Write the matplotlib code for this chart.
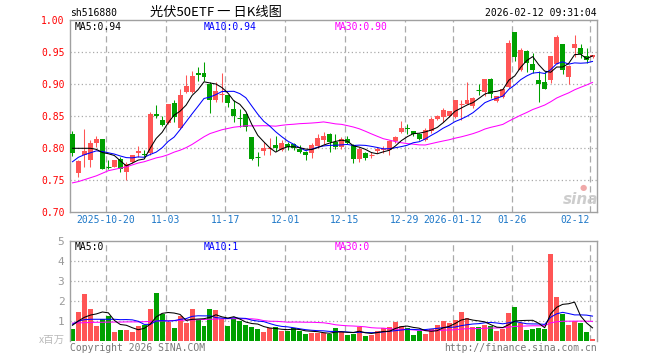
import matplotlib
matplotlib.use("Agg")
import matplotlib.pyplot as plt
import numpy as np
import pandas as pd
from matplotlib.patches import Rectangle

# ---------------- data ----------------
tick_labels = ["2025-10-20", "11-03", "11-17", "12-01", "12-15", "12-29",
               "2026-01-12", "01-26", "02-12"]
tick_index = [6, 16, 26, 36, 46, 56, 64, 74, 87]

opens = [0.823, 0.762, 0.789, 0.782, 0.809, 0.8146, 0.7725, 0.771, 0.784, 0.763,
         0.779, 0.7927, 0.791, 0.792, 0.853, 0.844, 0.839, 0.870, 0.831, 0.888,
         0.888, 0.918, 0.918, 0.901, 0.875, 0.884, 0.883, 0.862, 0.849, 0.854,
         0.817, 0.787, 0.795, 0.800, 0.805, 0.797, 0.807, 0.806, 0.799, 0.794,
         0.793, 0.803, 0.8125, 0.823, 0.810, 0.802, 0.815, 0.805, 0.784, 0.792,
         0.789, 0.796, 0.797, 0.798, 0.8115, 0.825, 0.8315, 0.8266, 0.823, 0.8135,
         0.827, 0.846, 0.849, 0.850, 0.849, 0.869, 0.870, 0.866, 0.892, 0.888,
         0.908, 0.874, 0.880, 0.896, 0.981, 0.922, 0.9516, 0.932, 0.906, 0.903,
         0.906, 0.932, 0.9625, 0.9115, 0.956, 0.956, 0.945, 0.943]
closes = [0.793, 0.780, 0.795, 0.809, 0.8146, 0.768, 0.771, 0.781, 0.768, 0.775,
          0.789, 0.795, 0.789, 0.853, 0.851, 0.837, 0.869, 0.849, 0.884, 0.898,
          0.9125, 0.914, 0.911, 0.875, 0.8896, 0.885, 0.871, 0.850, 0.848, 0.834,
          0.783, 0.786, 0.800, 0.801, 0.800, 0.809, 0.802, 0.800, 0.794, 0.789,
          0.805, 0.8167, 0.820, 0.810, 0.802, 0.815, 0.8083, 0.784, 0.7995, 0.785,
          0.790, 0.799, 0.799, 0.8115, 0.8177, 0.832, 0.830, 0.823, 0.815, 0.828,
          0.846, 0.8505, 0.860, 0.858, 0.875, 0.870, 0.875, 0.879, 0.891, 0.909,
          0.8854, 0.881, 0.892, 0.9646, 0.943, 0.953, 0.933, 0.923, 0.901, 0.893,
          0.944, 0.974, 0.923, 0.928, 0.9625, 0.948, 0.9385, 0.945]
highs = [0.827, 0.781, 0.830, 0.8125, 0.820, 0.815, 0.781, 0.782, 0.786, 0.779,
         0.790, 0.804, 0.797, 0.856, 0.867, 0.850, 0.870, 0.875, 0.892, 0.914,
         0.921, 0.927, 0.935, 0.904, 0.904, 0.917, 0.884, 0.875, 0.862, 0.855,
         0.818, 0.794, 0.810, 0.8167, 0.820, 0.8135, 0.810, 0.808, 0.805, 0.796,
         0.808, 0.823, 0.8255, 0.8245, 0.822, 0.818, 0.820, 0.807, 0.802, 0.794,
         0.794, 0.802, 0.803, 0.8125, 0.820, 0.8427, 0.8385, 0.8266, 0.824, 0.831,
         0.849, 0.8526, 0.8635, 0.859, 0.876, 0.875, 0.9036, 0.880, 0.900, 0.909,
         0.910, 0.881, 0.893, 0.969, 0.982, 0.956, 0.953, 0.949, 0.921, 0.921,
         0.944, 0.9766, 0.9625, 0.930, 0.9766, 0.9635, 0.957, 0.946]
lows = [0.788, 0.755, 0.770, 0.770, 0.802, 0.767, 0.768, 0.770, 0.763, 0.750,
        0.777, 0.786, 0.786, 0.790, 0.847, 0.835, 0.8375, 0.841, 0.830, 0.886,
        0.886, 0.905, 0.905, 0.855, 0.872, 0.872, 0.864, 0.841, 0.834, 0.827,
        0.782, 0.773, 0.789, 0.789, 0.796, 0.795, 0.797, 0.798, 0.792, 0.782,
        0.785, 0.800, 0.807, 0.794, 0.7995, 0.7995, 0.807, 0.777, 0.779, 0.782,
        0.785, 0.792, 0.793, 0.789, 0.808, 0.824, 0.823, 0.820, 0.8135, 0.811,
        0.824, 0.8437, 0.841, 0.849, 0.848, 0.845, 0.869, 0.8635, 0.883, 0.881,
        0.879, 0.872, 0.879, 0.895, 0.936, 0.921, 0.919, 0.918, 0.872, 0.892,
        0.902, 0.931, 0.9156, 0.900, 0.943, 0.9417, 0.933, 0.941]
volumes = [0.585, 1.45, 2.335, 1.585, 0.735, 1.07, 1.235, 0.452, 0.552, 0.552,
           0.452, 0.735, 0.785, 1.585, 2.385, 1.335, 0.952, 0.652, 1.235, 0.902,
           1.585, 1.035, 0.735, 1.585, 1.535, 1.068, 0.735, 1.068, 1.0, 0.785,
           0.70, 0.60, 0.45, 0.635, 0.668, 0.502, 0.502, 0.62, 0.50, 0.335,
           0.40, 0.40, 0.368, 0.35, 0.635, 0.45, 0.285, 0.335, 0.668, 0.235,
           0.285, 0.502, 0.618, 0.70, 0.935, 0.752, 0.652, 0.285, 0.502, 0.335,
           0.585, 0.785, 1.0, 0.868, 1.035, 1.452, 1.118, 0.668, 0.668, 0.785,
           0.752, 0.502, 0.585, 1.385, 1.685, 0.868, 0.552, 0.602, 0.635, 0.585,
           4.335, 2.185, 1.335, 0.785, 1.0, 0.885, 0.435, 0.10]

# moving-average values at the left edge (their earlier history is off-chart)
ma5_head = [0.800, 0.800, 0.800, 0.800]
ma10_head = [0.779, 0.786, 0.790, 0.793, 0.796, 0.795, 0.793, 0.791, 0.788]
ma30_head = [0.746, 0.748, 0.751, 0.754, 0.757, 0.761, 0.765, 0.767, 0.769, 0.771,
             0.774, 0.777, 0.779, 0.782, 0.785, 0.787, 0.790, 0.794, 0.797, 0.801,
             0.806, 0.812, 0.818, 0.823, 0.826, 0.829, 0.831, 0.833, 0.834]
vma5_head = [0.77, 0.99, 1.17, 1.28]
vma10_head = [0.82, 0.98, 1.05, 1.07, 1.07, 1.07, 1.07, 1.07, 1.05]
vma30_head = [0.88, 0.89, 0.90, 0.91, 0.92, 0.92, 0.93, 0.93, 0.93, 0.94,
              0.94, 0.94, 0.95, 0.96, 0.98, 0.99, 1.00, 1.01, 1.02, 1.03,
              1.04, 1.05, 1.06, 1.07, 1.08, 1.09, 1.10, 1.10, 1.10]

ma_labels = ["MA5:0.94", "MA10:0.94", "MA30:0.90"]
vma_labels = ["MA5:0", "MA10:1", "MA30:0"]
price_ticks = [0.70, 0.75, 0.80, 0.85, 0.90, 0.95, 1.00]
vol_ticks = [1, 2, 3, 4, 5]

# ---------------- helpers ----------------
def moving(values, n, head):
    s = pd.Series(values).rolling(n).mean().to_numpy()
    s[:len(head)] = head
    return s

ma5 = moving(closes, 5, ma5_head)
ma10 = moving(closes, 10, ma10_head)
ma30 = moving(closes, 30, ma30_head)
vma5 = moving(volumes, 5, vma5_head)
vma10 = moving(volumes, 10, vma10_head)
vma30 = moving(volumes, 30, vma30_head)

RED = "#FF5555"
GREEN = "#00A000"
GRID = "#AAAAAA"
MONO = "DejaVu Sans Mono"
CJK = ["Noto Sans CJK SC", "DejaVu Sans"]
LW = 0.75

W, H = 660, 360
fig = plt.figure(figsize=(W / 100, H / 100), dpi=100)
fig.patch.set_facecolor("white")

def rect(x0, y0, x1, y1):
    return [x0 / W, 1 - y1 / H, (x1 - x0) / W, (y1 - y0) / H]

def ftext(x, y, s, **kw):
    fig.text(x / W, 1 - y / H, s, **kw)

n = len(closes)
xs = np.arange(n)
bw = 5 / 6
xlim = (-2.5 / 6, n - 1 + 4.5 / 6)
grid_x = [i - 2.5 / 6 for i in tick_index]

ax = fig.add_axes(rect(70, 20.3, 597, 212.3))
axv = fig.add_axes(rect(70, 240.6, 597, 340.7))

for a in (ax, axv):
    a.set_xlim(*xlim)
    for sp in a.spines.values():
        sp.set_color("#A0A0A0")
        sp.set_linewidth(1.0)
    a.tick_params(length=0)
    for gx in grid_x:
        a.axvline(gx, color=GRID, lw=0.9, ls=(0, (5, 3)), zorder=0)

# ---- price panel ----
ax.set_ylim(0.70, 1.00)
for p in price_ticks[1:-1]:
    ax.axhline(p, color=GRID, lw=0.9, ls=(0, (1, 2)), zorder=0)
ax.set_yticks(price_ticks)
ax.set_yticklabels([f"{p:.2f}" for p in price_ticks], color="#FF0000",
                   fontsize=7, family=MONO)
ax.tick_params(axis="y", pad=4)
ax.set_xticks(grid_x)
ax.set_xticklabels(tick_labels, color="#1E78C8", fontsize=7, family=MONO)
ax.get_xticklabels()[-1].set_horizontalalignment("right")
ax.tick_params(axis="x", pad=2)

for i in range(n):
    o, c, h, l = opens[i], closes[i], highs[i], lows[i]
    col = RED if c >= o else GREEN
    ax.plot([xs[i], xs[i]], [l, h], color=col, lw=LW, zorder=2,
            solid_capstyle="butt")
    if abs(c - o) < 0.0015:
        ax.plot([xs[i] - bw / 2, xs[i] + bw / 2], [c, c], color=col, lw=LW,
                zorder=3, solid_capstyle="butt")
    else:
        ax.add_patch(Rectangle((xs[i] - bw / 2, min(o, c)), bw, abs(c - o),
                               facecolor=col, edgecolor="none", zorder=3))

ax.plot(xs, ma30, color="#FF00FF", lw=LW, zorder=4)
ax.plot(xs, ma10, color="#0000FF", lw=LW, zorder=4)
ax.plot(xs, ma5, color="#000000", lw=LW, zorder=5)

# ---- volume panel ----
axv.set_ylim(0, 5)
axv.spines["bottom"].set_visible(False)
for v in vol_ticks[:-1]:
    axv.axhline(v, color=GRID, lw=0.9, ls=(0, (1, 2)), zorder=0)
axv.set_yticks(vol_ticks)
axv.set_yticklabels([str(v) for v in vol_ticks], color="#999999",
                    fontsize=8, family=MONO)
axv.tick_params(axis="y", pad=4)
axv.set_xticks([])
vcols = [RED if closes[i] >= opens[i] else GREEN for i in range(n)]
axv.bar(xs, volumes, width=bw, color=vcols, zorder=2)
axv.plot(xs, vma30, color="#FF00FF", lw=LW, zorder=4)
axv.plot(xs, vma10, color="#0000FF", lw=LW, zorder=4)
axv.plot(xs, vma5, color="#000000", lw=LW, zorder=5)

# ---- texts ----
ftext(70, 13, "sh516880", fontsize=7, family=MONO, va="center", color="#000000")
ftext(150, 12, "光伏50ETF 一 日K线图", fontsize=9.5, family=CJK, va="center",
      color="#000000")
ftext(597, 13, "2026-02-12 09:31:04", fontsize=7, family=MONO, va="center",
      ha="right", color="#000000")

for x0, s, col in zip([75, 204, 334.5], ma_labels, ["#000000", "#0000FF", "#FF00FF"]):
    ftext(x0, 26.5, s, fontsize=7, family=MONO, va="center", color=col)
for x0, s, col in zip([75, 204, 334.5], vma_labels, ["#000000", "#0000FF", "#FF00FF"]):
    ftext(x0, 246.5, s, fontsize=7, family=MONO, va="center", color=col)

ftext(65, 340, "x百万", fontsize=7.5, family=CJK, va="center", ha="right",
      color="#BBBBBB")
ftext(70, 348, "Copyright 2026 SINA.COM", fontsize=7, family=MONO, va="center",
      color="#777777")
ftext(597, 348, "http://finance.sina.com.cn", fontsize=7, family=MONO,
      va="center", ha="right", color="#777777")

# sina watermark
ftext(581, 199, "sina", fontsize=11, family="DejaVu Sans", weight="bold",
      style="italic", va="center", ha="center", color="#C8C8C8", alpha=0.9)
ftext(583, 187.5, "●", fontsize=6, family="DejaVu Sans", va="center",
      ha="center", color="#F0A8A8")

fig.savefig("out.png", dpi=100, facecolor="white")
